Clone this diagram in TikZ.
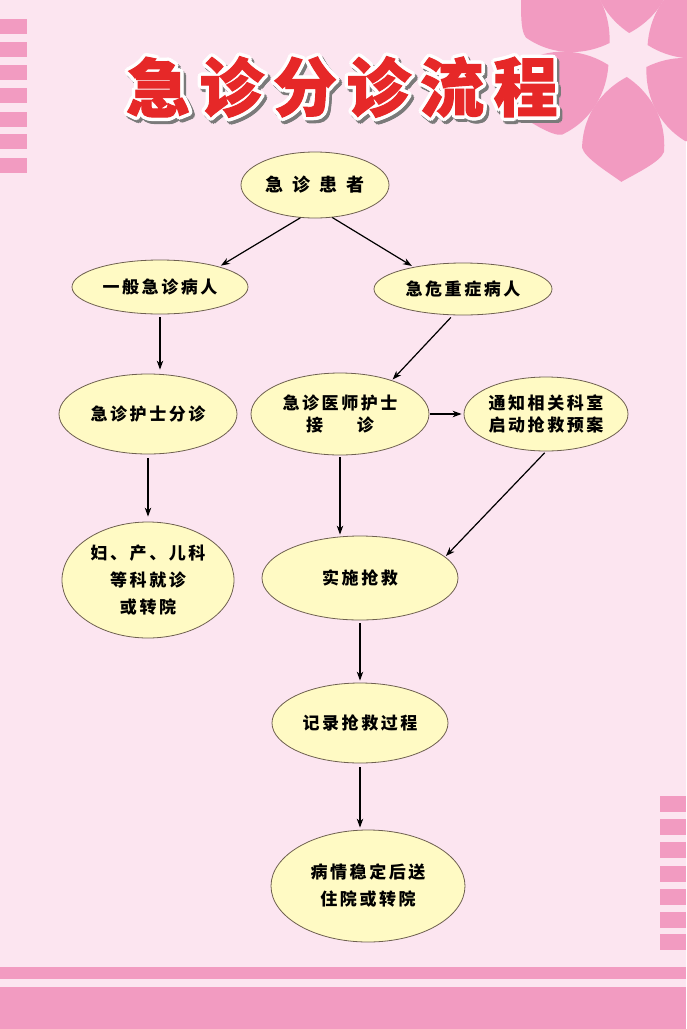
\documentclass[tikz,border=0pt]{standalone}
\usepackage{fontspec}
\usetikzlibrary{shapes.geometric,arrows.meta}
\newfontfamily\lblfont{Noto Sans CJK SC}[LetterSpace=15]
\newfontfamily\widefont{Noto Sans CJK SC}[LetterSpace=50]
\newfontfamily\ttlfont{Noto Sans CJK SC}[BoldFeatures={FakeBold=1.5}]
\definecolor{bgpink}{HTML}{FCE5F0}
\definecolor{stripe}{HTML}{F29BC1}
\definecolor{ellfill}{HTML}{FFFAC4}
\definecolor{ellline}{HTML}{6E6050}
\definecolor{ttlred}{HTML}{E62828}
\definecolor{shadowgray}{HTML}{7A7A7A}
\begin{document}
\begin{tikzpicture}[x=1pt,y=-1pt,
  box/.style={ellipse, draw=ellline, line width=0.8pt, fill=ellfill, inner sep=0pt,
    align=center, text=black, font=\lblfont\bfseries\fontsize{17}{22}\selectfont},
  arr/.style={line width=1.2pt, -{Stealth[length=9pt,width=6.5pt]}},
  ttl/.style={inner sep=0pt, font=\ttlfont\bfseries\fontsize{64}{64}\selectfont}]
\useasboundingbox (0,0) rectangle (686,1029);
\fill[bgpink] (0,0) rectangle (686,1029);
% left stripes
\foreach \y in {19,42,65,88,112,134,158}
  \fill[stripe] (0,\y) rectangle (27,\y+15);
% right stripes
\foreach \y in {796,819,842,866,889,912,934}
  \fill[stripe] (660,\y) rectangle (686,\y+16);
% bottom bands
\fill[stripe] (0,967) rectangle (686,979);
\fill[stripe] (0,987) rectangle (686,1029);
% flower
\foreach \a in {87,147,207,267,327,27}
  \fill[stripe, shift={(628,55)}, rotate=\a]
    (22,0) .. controls (35,22) and (60,42) .. (95,41)
    .. controls (105,38) and (118,14) .. (127,0)
    .. controls (118,-14) and (105,-38) .. (95,-41)
    .. controls (60,-42) and (35,-22) .. (22,0) -- cycle;
% title
\foreach \c [count=\i from 0] in {急,诊,分,诊,流,程} {
  \pgfmathsetmacro\cx{158+73.5*\i}
  \foreach \a in {0,30,...,330}
    \node[ttl, text=shadowgray, shift={(\a:3.5)}, xshift=2.5pt, yshift=-3pt] (ts\i-\a) at (\cx,87) {\c};
  \foreach \a in {0,30,...,330}
    \node[ttl, text=white, shift={(\a:3.5)}] (tw\i-\a) at (\cx,87) {\c};
  \node[ttl, text=ttlred] (tr\i) at (\cx,87) {\c};
}
% nodes
\node[box, minimum width=148pt, minimum height=66pt, font=\widefont\bfseries\fontsize{18}{22}\selectfont] (huanzhe) at (315,185) {急诊患者};
\node[box, minimum width=176pt, minimum height=54pt] (yiban) at (160,287) {一般急诊病人};
\node[box, minimum width=178pt, minimum height=52pt] (jiwei) at (463,289) {急危重症病人};
\node[box, minimum width=178pt, minimum height=80pt] (fenzhen) at (148,414) {急诊护士分诊};
\node[box, minimum width=178pt, minimum height=82pt] (yishi) at (340,414) {急诊医师护士\\接\hspace{34pt}诊};
\node[box, minimum width=164pt, minimum height=74pt] (tongzhi) at (546,414) {通知相关科室\\启动抢救预案};
\node[box, minimum width=172pt, minimum height=116pt, font=\lblfont\bfseries\fontsize{17}{27}\selectfont] (fuchan) at (148,580) {妇、产、儿科\\等科就诊\\或转院};
\node[box, minimum width=196pt, minimum height=84pt] (shishi) at (360,578) {实施抢救};
\node[box, minimum width=176pt, minimum height=80pt] (jilu) at (360,723) {记录抢救过程};
\node[box, minimum width=194pt, minimum height=112pt, font=\lblfont\bfseries\fontsize{17}{27}\selectfont] (bingqing) at (368,886) {病情稳定后送\\住院或转院};
% connectors
\draw[arr, shorten >=2pt] (huanzhe.246) -- (yiban.19);
\draw[arr, shorten >=2pt] (huanzhe.298) -- (jiwei.156);
\draw[arr, shorten <=3pt, shorten >=4pt] (yiban.south) -- (yiban.south |- fenzhen.north);
\draw[arr, shorten <=4pt, shorten >=5pt] (fenzhen.south) -- (fuchan.north);
\draw[arr, shorten <=3pt, shorten >=1pt] (jiwei.249) -- (yishi.33);
\draw[arr, shorten <=1pt, shorten >=2pt] (yishi.east) -- (tongzhi.west);
\draw[arr, shorten <=2pt, shorten >=1pt] (yishi.south) -- (yishi.south |- shishi.north);
\draw[arr, shorten <=2pt, shorten >=1pt] (tongzhi.south) -- (shishi.14);
\draw[arr, shorten <=3pt, shorten >=2pt] (shishi.south) -- (jilu.north);
\draw[arr, shorten <=4pt, shorten >=2pt] (jilu.south) -- (jilu.south |- bingqing.north);
\end{tikzpicture}
\end{document}
